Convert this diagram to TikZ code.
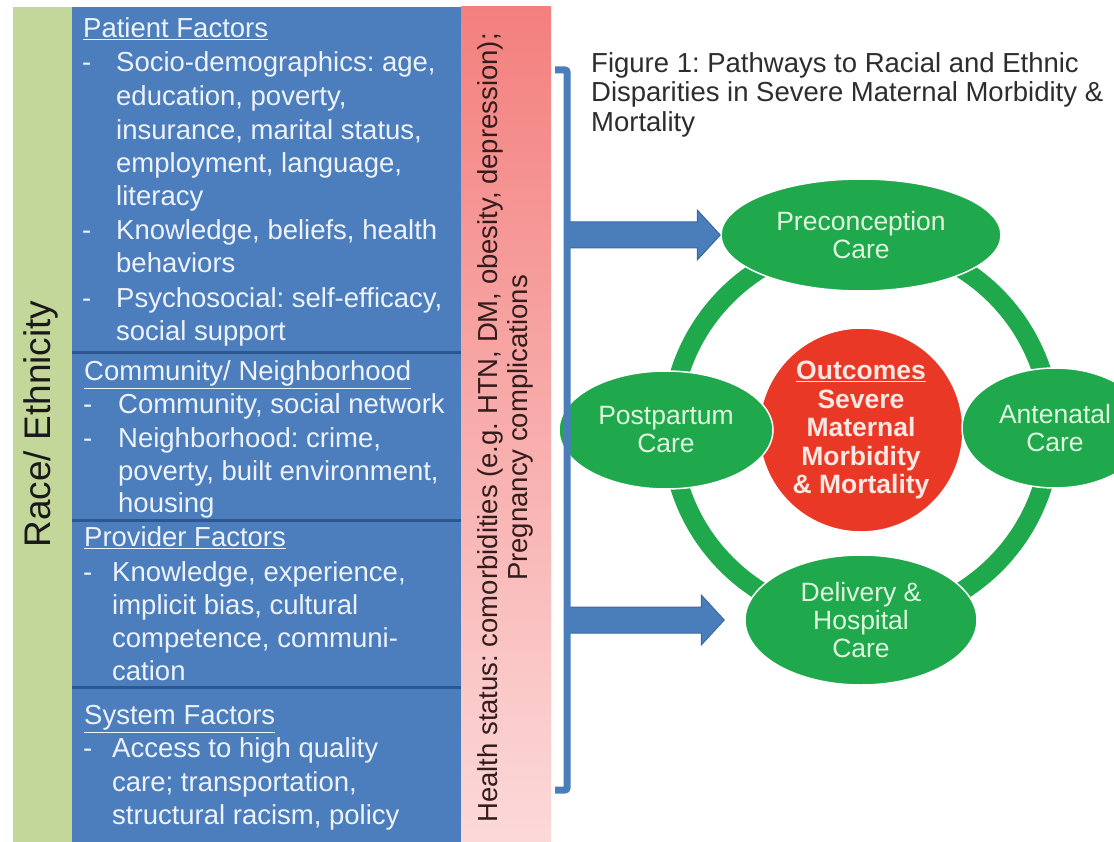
\documentclass[tikz,border=0pt]{standalone}
\usepackage{fontspec}
\setmainfont{Liberation Sans}
\usetikzlibrary{shapes.geometric,calc}
\frenchspacing
\definecolor{stripgreen}{RGB}{196,215,155}
\definecolor{panelblue}{RGB}{76,126,190}
\definecolor{divblue}{RGB}{44,88,145}
\definecolor{pinktop}{RGB}{243,128,126}
\definecolor{pinkbot}{RGB}{252,217,217}
\definecolor{caregreen}{RGB}{32,168,76}
\definecolor{outred}{RGB}{234,56,38}
\definecolor{paletxt}{RGB}{238,242,250}
\definecolor{greentxt}{RGB}{222,247,222}
\definecolor{redtxt}{RGB}{252,232,226}
\definecolor{arrowblue}{RGB}{74,126,187}
\definecolor{arrowedge}{RGB}{58,104,165}
\definecolor{titlegray}{RGB}{45,45,45}
\definecolor{striptxt}{RGB}{50,28,28}
\newcommand\blockarrow[2]{%
  \filldraw[blockarr] ($(#1)+(0,-13)$) -- ($(#2)+(-23,-13)$) -- ($(#2)+(-23,-25)$) -- (#2)
    -- ($(#2)+(-23,25)$) -- ($(#2)+(-23,13)$) -- ($(#1)+(0,13)$) -- cycle;}
\begin{document}
\frenchspacing
\begin{tikzpicture}[x=1pt,y=-1pt,
  ptext/.style={anchor=west,inner sep=0pt,text=paletxt,
    font=\fontsize{27.5}{33}\selectfont,text height=19.7pt,text depth=0pt},
  ttext/.style={anchor=west,inner sep=0pt,text=titlegray,
    font=\fontsize{27.5}{30}\selectfont,text height=19.7pt,text depth=0pt},
  care/.style={ellipse,fill=caregreen,draw=white,line width=1.5pt,inner sep=0pt,
    text=greentxt,align=center,font=\fontsize{26.5}{28}\selectfont},
  divider/.style={divblue,line width=3pt},
  blockarr/.style={fill=arrowblue,draw=arrowedge,line width=1pt,line join=miter}]
\useasboundingbox (0,0) rectangle (1114,842);
\clip (0,0) rectangle (1114,842);
\fill[white] (0,0) rectangle (1114,842);
% strips and panel
\fill[stripgreen] (13,7) rectangle (72,842);
\fill[panelblue] (72,7) rectangle (461,842);
\shade[top color=pinktop,bottom color=pinkbot] (461,7) rectangle (551,842);
\draw[divider] (72,353) -- (461,353);
\draw[divider] (72,520) -- (461,520);
\draw[divider] (72,687) -- (461,687);
% panel text
\foreach \n/\xx/\yy/\t in {
  pa/83/28/{\underline{Patient Factors}},
  pa1/82/62/{\makebox[34pt][l]{-}Socio-demographics: age,},
  pa2/116/96/{education, poverty,},
  pa3/116/130/{insurance, marital status,},
  pa4/116/163/{employment, language,},
  pa5/116/196/{literacy},
  pa6/82/230/{\makebox[34pt][l]{-}Knowledge, beliefs, health},
  pa7/116/263/{behaviors},
  pa8/82/298/{\makebox[34pt][l]{-}Psychosocial: self-efficacy,},
  pa9/116/331/{social support},
  co/84/371/{\underline{Community/ Neighborhood}},
  co1/83/404/{\makebox[35pt][l]{-}Community, social network},
  co2/83/438/{\makebox[35pt][l]{-}Neighborhood: crime,},
  co3/118/471/{poverty, built environment,},
  co4/118/503/{housing},
  pr/84/537/{\underline{Provider Factors}},
  pr1/83/572/{\makebox[29pt][l]{-}Knowledge, experience,},
  pr2/112/605/{implicit bias, cultural},
  pr3/112/638/{competence, communi-},
  pr4/112/671/{cation},
  sy/84/715/{\underline{System Factors}},
  sy1/83/748/{\makebox[29pt][l]{-}Access to high quality},
  sy2/112/782/{care; transportation,},
  sy3/112/815/{structural racism, policy}}
  \node[ptext] (\n) at (\xx,\yy) {\t};
% rotated labels
\node[rotate=90,inner sep=0pt,text=black!90,font=\fontsize{37}{40}\selectfont] (race) at (41,424) {Race/ Ethnicity};
\node[rotate=90,inner sep=0pt,align=center,text=striptxt,font=\fontsize{27.5}{30}\selectfont] (health) at (505,428)
  {Health status: comorbidities (e.g. HTN, DM, obesity, depression);\\Pregnancy complications};
% title
\node[ttext] (t1) at (591,63) {Figure 1: Pathways to Racial and Ethnic};
\node[ttext] (t2) at (591,92) {Disparities in Severe Maternal Morbidity \&};
\node[ttext] (t3) at (591,122) {Mortality};
% ring
\coordinate (c) at (861,430);
\draw[caregreen,line width=19pt] (c) circle[radius=190pt];
% outcome
\node[circle,minimum size=204pt,inner sep=0pt,fill=outred,draw=white,line width=1.5pt,
  text=redtxt,align=center,font=\bfseries\fontsize{26.5}{28.5}\selectfont] (out) at (c)
  {\underline{Outcomes}\\Severe\\Maternal\\Morbidity\\\& Mortality};
% care ellipses
\node[care,minimum width=280pt,minimum height=112pt] (pre) at (861,235) {Preconception\\Care};
\node[care,minimum width=214pt,minimum height=118pt] (post) at (666,430) {Postpartum\\Care};
\node[care,minimum width=186pt,minimum height=120pt] (ante) at (1055,428) {Antenatal\\Care};
\node[care,minimum width=232pt,minimum height=130pt] (del) at (861,620) {Delivery \&\\Hospital\\Care};
% arrows and bracket
\coordinate (bt) at (567,70);
\coordinate (bb) at (567,790);
\coordinate (aA) at (567,235);
\coordinate (aB) at (567,620);
\coordinate (tB) at ($(del.west)+(-20,0)$);
\blockarrow{aA}{pre.west}
\blockarrow{aB}{tB}
\draw[arrowblue,line width=7pt,rounded corners=2pt] ($(bt)+(-12,0)$) -- (bt) -- (bb) -- ($(bb)+(-12,0)$);
\end{tikzpicture}
\end{document}
